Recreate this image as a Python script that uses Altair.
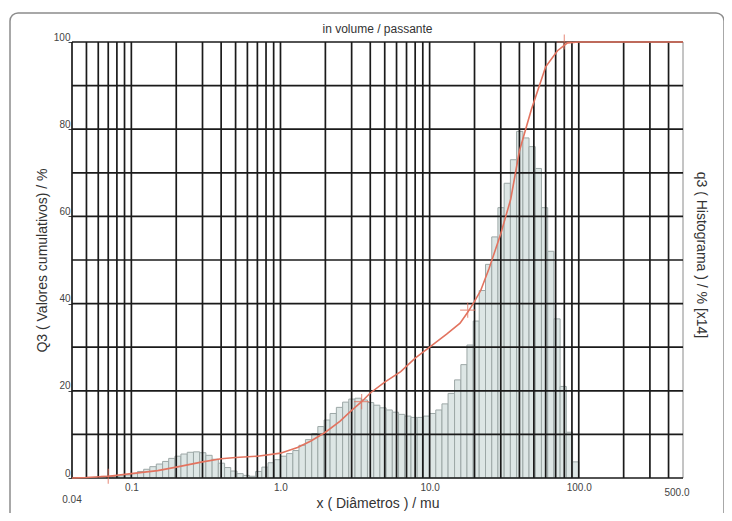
import altair as alt
import pandas as pd

# ---- histogram classes (diameter, µm) and q3 heights (% x14) ----
edges = [0.068, 0.075, 0.0825, 0.0909, 0.100, 0.110, 0.121, 0.133, 0.147, 0.162,
         0.178, 0.196, 0.215, 0.237, 0.261, 0.287, 0.316, 0.348, 0.383, 0.422,
         0.464, 0.511, 0.562, 0.619, 0.681, 0.750, 0.825, 0.909, 1.00, 1.10,
         1.21, 1.33, 1.47, 1.62, 1.78, 1.96, 2.15, 2.37, 2.61, 2.87,
         3.16, 3.48, 3.83, 4.22, 4.64, 5.11, 5.62, 6.19, 6.81, 7.50,
         8.25, 9.09, 10.0, 11.0, 12.1, 13.3, 14.7, 16.2, 17.8, 19.6,
         21.5, 23.7, 26.1, 28.7, 31.6, 34.8, 38.3, 42.2, 46.4, 51.1,
         56.2, 61.9, 68.1, 75.0, 82.5, 90.9, 100.0]
q3 = [0.3, 0.4, 0.5, 0.7, 1.0, 1.5, 2.0, 2.6, 3.2, 3.8,
      4.5, 5.0, 5.5, 5.9, 6.0, 5.8, 5.2, 4.3, 3.4, 2.4,
      1.6, 1.0, 0.6, 0.4, 1.5, 2.5, 3.5, 4.2, 5.0, 5.6,
      6.3, 7.5, 8.8, 10.2, 11.8, 13.3, 14.8, 16.2, 17.4, 18.1,
      18.3, 17.9, 17.3, 16.7, 16.1, 15.6, 15.1, 14.6, 14.2, 13.9,
      13.9, 14.2, 14.8, 15.6, 17.0, 19.4, 22.5, 26.0, 30.5, 36.0,
      43.0, 49.0, 55.3, 62.0, 67.6, 73.0, 79.5, 78.0, 76.0, 71.0,
      62.0, 52.0, 36.5, 21.0, 10.5, 3.7]

# ---- cumulative curve Q3 ----
cum_x = [0.04, 0.05, 0.07, 0.1, 0.15, 0.2, 0.3, 0.4, 0.5, 0.7,
         1.0, 1.3, 1.6, 2.0, 2.5, 3.0, 3.5, 4.0, 5.0, 6.4,
         8.0, 10.0, 13.0, 16.0, 18.0, 20.0, 22.0, 25.0, 30.0, 35.0,
         40.0, 48.0, 60.0, 72.0, 84.0, 100.0, 500.0]
cum_y = [0.0, 0.1, 0.4, 1.0, 1.7, 2.5, 3.7, 4.4, 4.7, 5.0,
         5.7, 7.0, 8.5, 10.5, 13.0, 15.5, 17.5, 19.5, 22.0, 24.4,
         27.5, 30.0, 33.0, 35.5, 38.0, 40.5, 43.0, 48.0, 56.0, 64.0,
         75.0, 84.4, 94.3, 98.0, 99.8, 100.0, 100.0]

mark_x = [0.07, 3.5, 18.0, 80.0]
mark_y = [0.4, 17.5, 38.5, 100.0]

# ---- grid / tick values ----
x_grid = [0.04, 0.05, 0.06, 0.07, 0.08, 0.09, 0.1, 0.2, 0.3, 0.4, 0.5, 0.6, 0.7, 0.8, 0.9,
          1, 2, 3, 4, 5, 6, 7, 8, 9, 10, 20, 30, 40, 50, 60, 70, 80, 90,
          100, 200, 300, 400]
x_edge = [500]
y_grid = [0, 10, 20, 30, 40, 50, 60, 70, 80, 90, 100]
x_labels = [0.1, 1, 10, 100]
y_labels = [0, 20, 40, 60, 80, 100]

FONT = "Liberation Sans"
W, H = 611, 436

hist = pd.DataFrame({"lo": edges[:-1], "hi": edges[1:], "q3": q3})
cum = pd.DataFrame({"x": cum_x, "Q3": cum_y})
marks = pd.DataFrame({"x": mark_x, "Q3": mark_y})
xg = pd.DataFrame({"x": x_grid})
xe = pd.DataFrame({"x": x_edge})
yg = pd.DataFrame({"y": y_grid})

xscale = alt.Scale(type="log", domain=[0.04, 500], nice=False)
yscale = alt.Scale(domain=[0, 100], nice=False)

xaxis = alt.Axis(values=x_labels, format=".1f", ticks=False, domain=False, grid=False,
                 labelFont=FONT, labelFontSize=10, labelColor="#444", labelPadding=4,
                 title="x ( Diâmetros ) / mu", titleFont=FONT, titleFontSize=14,
                 titleFontWeight="normal", titleColor="#333", titlePadding=4)
yaxis = alt.Axis(values=y_labels, ticks=True, tickSize=4, tickColor="#444", domain=False,
                 grid=False, labelFont=FONT, labelFontSize=10, labelColor="#444",
                 labelPadding=-2, labelBaseline="bottom",
                 title="Q3 ( Valores cumulativos) / %", titleFont=FONT, titleFontSize=14,
                 titleFontWeight="normal", titleColor="#333", titlePadding=4)

frame = alt.Chart(pd.DataFrame({"a": [0]})).mark_rect(
    fillOpacity=0, stroke="#8c8c8c", strokeWidth=1.5, cornerRadius=8
).encode(x=alt.value(-62), x2=alt.value(652), y=alt.value(-29), y2=alt.value(495))

bars = alt.Chart(hist).mark_rect(
    fill="#dde6e5", stroke="#9ca7a6", strokeWidth=1
).encode(
    x=alt.X("lo:Q", scale=xscale, axis=xaxis),
    x2="hi:Q",
    y=alt.Y("q3:Q", scale=yscale, axis=yaxis),
    y2=alt.datum(0),
)

vgrid = alt.Chart(xg).mark_rule(color="#1a1a1a", strokeWidth=1.7).encode(
    x=alt.X("x:Q", scale=xscale))
vedge = alt.Chart(xe).mark_rule(color="#8a8a8a", strokeWidth=1).encode(
    x=alt.X("x:Q", scale=xscale))
hgrid = alt.Chart(yg).mark_rule(color="#1a1a1a", strokeWidth=1.7).encode(
    y=alt.Y("y:Q", scale=yscale))

line = alt.Chart(cum).mark_line(color="#e2735f", strokeWidth=1.6).encode(
    x=alt.X("x:Q", scale=xscale), y=alt.Y("Q3:Q", scale=yscale))

pts = alt.Chart(marks).mark_point(
    shape="M-1,0H1M0,-1V1", size=230, stroke="#e2735f", strokeWidth=1.2, filled=False
).encode(x=alt.X("x:Q", scale=xscale), y=alt.Y("Q3:Q", scale=yscale))

lbl004 = alt.Chart(pd.DataFrame({"x": [0.04], "t": ["0.04"]})).mark_text(
    font=FONT, fontSize=10, color="#444", baseline="middle", align="center"
).encode(x=alt.X("x:Q", scale=xscale), y=alt.value(H + 22), text="t:N")

lbl500 = alt.Chart(pd.DataFrame({"x": [500], "t": ["500.0"]})).mark_text(
    font=FONT, fontSize=10, color="#444", baseline="middle", align="center", dx=-6
).encode(x=alt.X("x:Q", scale=xscale), y=alt.value(H + 15), text="t:N")

top_title = alt.Chart(pd.DataFrame({"t": ["in volume / passante"]})).mark_text(
    font=FONT, fontSize=12, color="#333", align="center", baseline="middle"
).encode(x=alt.value(W / 2), y=alt.value(-13), text="t:N")

right_title = alt.Chart(pd.DataFrame({"t": ["q3 ( Histograma ) / % [x14]"]})).mark_text(
    font=FONT, fontSize=14, color="#333", angle=90, align="center", baseline="middle"
).encode(x=alt.value(W + 18), y=alt.value(H / 2 - 5), text="t:N")

chart = alt.layer(frame, bars, vgrid, vedge, hgrid, line, pts,
                  lbl004, lbl500, top_title, right_title).properties(
    width=W, height=H,
    autosize=alt.AutoSizeParams(type="none"),
    padding={"left": 64, "top": 34, "right": 41, "bottom": 35},
    background="white",
).configure_view(stroke=None)

chart.save("out.html", embed_options={"renderer": "svg", "actions": False})
